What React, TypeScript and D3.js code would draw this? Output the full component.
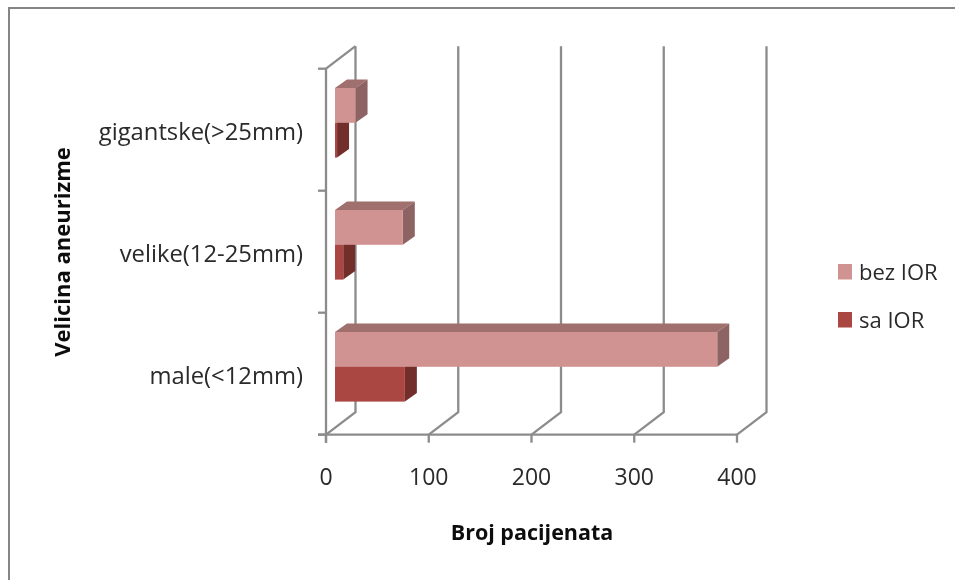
import React from 'react';
import * as d3 from 'd3';

const categories = ['male(<12mm)', 'velike(12-25mm)', 'gigantske(>25mm)'];
const seriesNames = ['bez IOR', 'sa IOR'];
const bezIor = [372, 66, 20];
const saIor = [68, 8, 2];
const xTicks = [0, 100, 200, 300, 400];

const W = 955;
const H = 580;
const FONT = '"Open Sans", sans-serif';

// front floor edge of the 3D box, back wall is shifted by wall offset
const x = d3.scaleLinear().domain([0, 400]).range([326, 737]);
const y = d3.scaleBand().domain(categories).range([434.7, 68.7]);
const wallDx = 29.5;
const wallDy = -22.5;
const barDx = 12;
const barDy = -8.5;
const barShift = 9; // bars sit a little behind the front plane
const barH = 34.8;
const barTop = 19.3; // from top of the band to the first bar

const gridColor = '#8c8c8c';
const gridWidth = 2.3;

const App: React.FC = () => {
  const x0 = x(0);
  const front = y.range()[0];
  const top = y.range()[1];
  const bandTicks = [front, ...categories.map((c) => y(c) as number)];

  const bar = (cat: string, value: number, row: number, face: string, topFace: string, side: string) => {
    const bx0 = x(0) + barShift;
    const bx1 = x(value) + barShift;
    const by0 = (y(cat) as number) + barTop + row * barH;
    const by1 = by0 + barH;
    return (
      <g key={cat + row}>
        <path d={`M${bx0},${by0}L${bx0 + barDx},${by0 + barDy}L${bx1 + barDx},${by0 + barDy}L${bx1},${by0}Z`} fill={topFace} />
        <path d={`M${bx1},${by0}L${bx1 + barDx},${by0 + barDy}L${bx1 + barDx},${by1 + barDy}L${bx1},${by1}Z`} fill={side} />
        <rect x={bx0} y={by0} width={bx1 - bx0} height={barH} fill={face} />
      </g>
    );
  };

  return (
    <svg width={W} height={H} style={{ position: 'absolute', left: 0, top: 0, background: '#fff' }}>
      {/* the source picture is a slightly soft scan */}
      <defs>
        <filter id="soft" x="0" y="0" width="100%" height="100%">
          <feGaussianBlur stdDeviation="0.45" />
        </filter>
      </defs>

      <g filter="url(#soft)">
        {/* outer frame, open on the right and at the bottom */}
        <path d={`M8.5,${H}V7.5H${W}`} fill="none" stroke="#858585" strokeWidth={3} />

        {/* back wall gridlines and floor */}
        {xTicks.map((t) => (
          <path
            key={t}
            d={`M${x(t)},${front}L${x(t) + wallDx},${front + wallDy}V${top + wallDy}`}
            fill="none"
            stroke={gridColor}
            strokeWidth={gridWidth}
          />
        ))}
        <path d={`M${x0},${top}L${x0 + wallDx},${top + wallDy}`} fill="none" stroke={gridColor} strokeWidth={gridWidth} />

        {/* axes */}
        <line x1={x0} x2={x0} y1={top} y2={front + 8} stroke={gridColor} strokeWidth={gridWidth} />
        <line x1={x0 - 8} x2={x(400)} y1={front} y2={front} stroke={gridColor} strokeWidth={gridWidth} />
        {bandTicks.map((t) => (
          <line key={t} x1={x0 - 8} x2={x0} y1={t} y2={t} stroke={gridColor} strokeWidth={gridWidth} />
        ))}
        {xTicks.map((t) => (
          <line key={t} x1={x(t)} x2={x(t)} y1={front} y2={front + 8} stroke={gridColor} strokeWidth={gridWidth} />
        ))}

        {/* bars, drawn back to front */}
        {categories.map((c, i) => bar(c, saIor[i], 1, '#aa4643', '#8a3836', '#712e2c')).reverse()}
        {categories.map((c, i) => bar(c, bezIor[i], 0, '#d19392', '#a06f6e', '#8e6463')).reverse()}

        {/* tick labels */}
        <g fontFamily={FONT} fill="#2a2a2a">
          {xTicks.map((t) => (
            <text key={t} x={x(t)} y={485} fontSize={23} textAnchor="middle">{t}</text>
          ))}
          {categories.map((c) => (
            <text key={c} x={303} y={(y(c) as number) + y.bandwidth() / 2 + 10.5} fontSize={23.8} textAnchor="end">{c}</text>
          ))}
        </g>

        {/* axis titles */}
        <text x={532} y={540} textAnchor="middle" fontFamily={FONT} fontSize={21.5} fontWeight={700} fill="#111">Broj pacijenata</text>
        <text
          transform="translate(70,252) rotate(-90)"
          textAnchor="middle"
          fontFamily={FONT}
          fontSize={22}
          fontWeight={700}
          fill="#111"
        >
          Velicina aneurizme
        </text>

        {/* legend */}
        {seriesNames.map((s, i) => (
          <g key={s} transform={`translate(838,${264 + i * 48})`}>
            <rect width={14} height={15.5} fill={i === 0 ? '#d19392' : '#aa4643'} />
            <text x={21} y={15.5} fontFamily={FONT} fontSize={22} fill="#2a2a2a">{s}</text>
          </g>
        ))}
      </g>
    </svg>
  );
};

export default App;
